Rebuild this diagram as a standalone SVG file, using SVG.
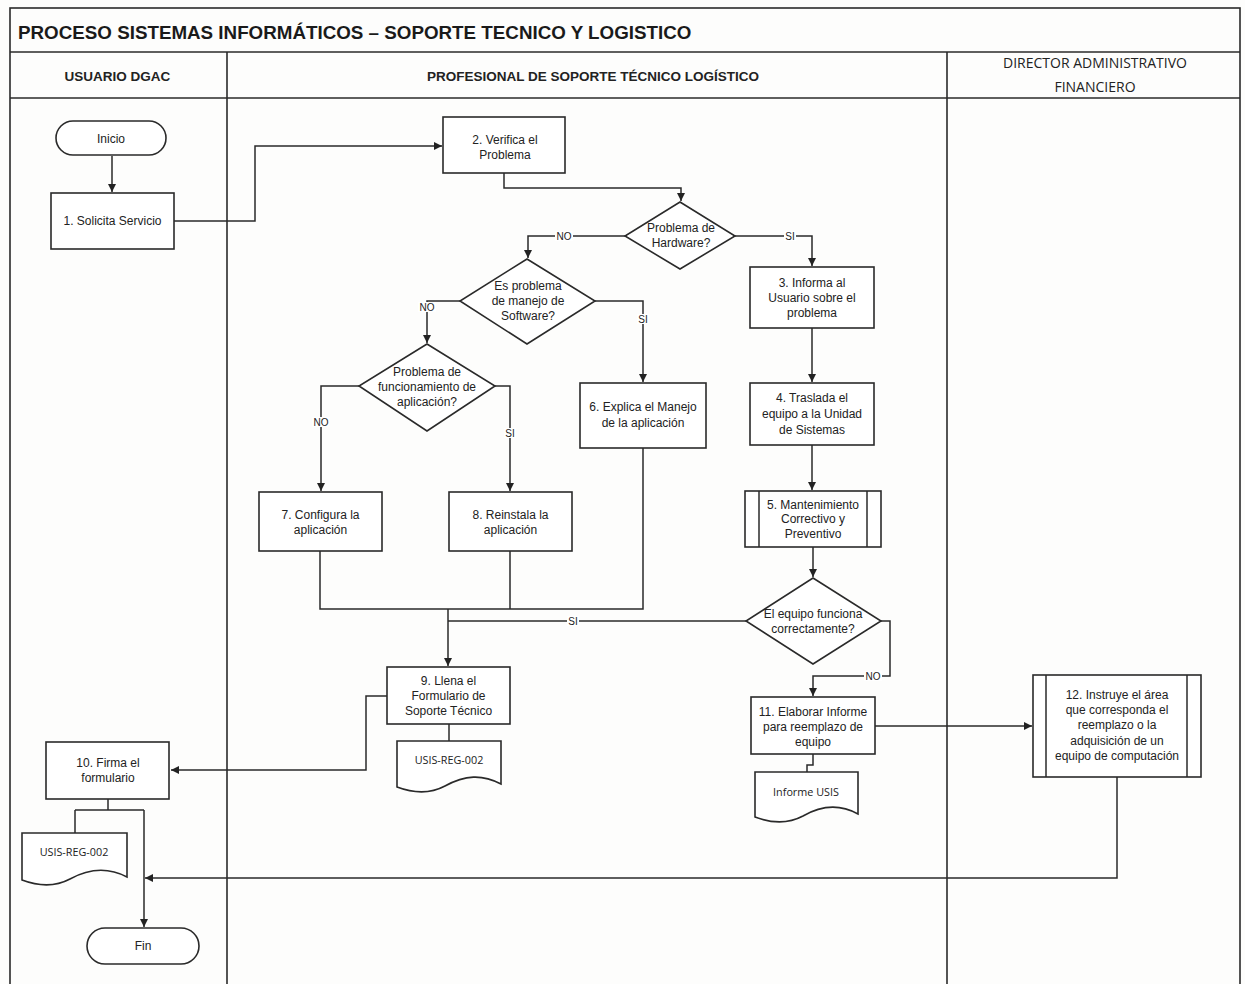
<svg xmlns="http://www.w3.org/2000/svg" width="1245" height="984" viewBox="0 0 1245 984">
<defs>
<marker id="arr" viewBox="0 0 10 10" refX="10" refY="5" markerWidth="8" markerHeight="8" markerUnits="userSpaceOnUse" orient="auto">
<path d="M0,0 L10,5 L0,10 z" fill="#222"/>
</marker>
<style>
.frame{fill:none;stroke:#2a2a2a;stroke-width:1.6}
.box{fill:#fff;stroke:#2a2a2a;stroke-width:1.6}
.ln{fill:none;stroke:#2a2a2a;stroke-width:1.5}
.t{font-family:"Liberation Sans",Arial,sans-serif;font-size:12px;fill:#222;text-anchor:middle}
.ts{font-family:"Liberation Sans",Arial,sans-serif;font-size:12px;fill:#222;text-anchor:middle}
.doc{font-family:"Open Sans","Liberation Sans",sans-serif;font-size:10.8px;fill:#222;text-anchor:middle}
.lbl{font-family:"Liberation Sans",Arial,sans-serif;font-size:10px;fill:#222;text-anchor:middle}
.hdr{font-family:"Liberation Sans",Arial,sans-serif;font-size:13.5px;font-weight:bold;fill:#222;text-anchor:middle}
.hdr2{font-family:"Open Sans","Liberation Sans",sans-serif;font-size:14px;fill:#222;text-anchor:middle}
.title{font-family:"Liberation Sans",Arial,sans-serif;font-size:18.8px;font-weight:bold;fill:#1a1a1a}
.bg{fill:#fff}
</style>
</defs>
<rect x="0" y="0" width="1245" height="984" fill="#fdfdfc"/>

<g id="lanes">
<rect class="frame" x="10" y="8" width="1230" height="990"/>
<line class="frame" x1="10" y1="52" x2="1240" y2="52"/>
<line class="frame" x1="10" y1="98" x2="1240" y2="98"/>
<line class="frame" x1="227" y1="52" x2="227" y2="984"/>
<line class="frame" x1="947" y1="52" x2="947" y2="984"/>
<text class="title" x="18" y="38.5">PROCESO SISTEMAS INFORMÁTICOS – SOPORTE TECNICO Y LOGISTICO</text>
<text class="hdr" x="117.5" y="81">USUARIO DGAC</text>
<text class="hdr" x="593" y="80.5">PROFESIONAL DE SOPORTE TÉCNICO LOGÍSTICO</text>
<text class="hdr2" x="1095" y="68">DIRECTOR ADMINISTRATIVO</text>
<text class="hdr2" x="1095" y="92">FINANCIERO</text>
</g>

<g id="connectors">
<path class="ln" d="M112,156 V192" marker-end="url(#arr)"/>
<path class="ln" d="M174,221 H255 V146 H442" marker-end="url(#arr)"/>
<path class="ln" d="M504,173 V188 H681 V201" marker-end="url(#arr)"/>
<path class="ln" d="M625,236 H528 V258" marker-end="url(#arr)"/>
<path class="ln" d="M735,236 H812 V266" marker-end="url(#arr)"/>
<path class="ln" d="M460,301 H427 V343" marker-end="url(#arr)"/>
<path class="ln" d="M595,301 H643 V382" marker-end="url(#arr)"/>
<path class="ln" d="M359,386 H321 V491" marker-end="url(#arr)"/>
<path class="ln" d="M495,386 H510 V491" marker-end="url(#arr)"/>
<path class="ln" d="M812,328 V382" marker-end="url(#arr)"/>
<path class="ln" d="M812,445 V490" marker-end="url(#arr)"/>
<path class="ln" d="M813,547 V577" marker-end="url(#arr)"/>
<path class="ln" d="M320,551 V609 H643 V448 M510,551 V609"/>
<path class="ln" d="M448,609 V666" marker-end="url(#arr)"/>
<path class="ln" d="M746,621 H448"/>
<path class="ln" d="M881,621 H890 V676 H813 V696" marker-end="url(#arr)"/>
<path class="ln" d="M449,724 V741"/>
<path class="ln" d="M387,696 H366 V770 H171" marker-end="url(#arr)"/>
<path class="ln" d="M813,754 V765 H807 V772"/>
<path class="ln" d="M875,726 H1032" marker-end="url(#arr)"/>
<path class="ln" d="M1117,777 V878 H145" marker-end="url(#arr)"/>
<path class="ln" d="M108,799 V810 M75,810 H144 M75,810 V833"/>
<path class="ln" d="M144,810 V927" marker-end="url(#arr)"/>
<rect class="bg" x="555" y="231" width="18" height="10"/>
<text class="lbl" x="564" y="239.5">NO</text>
<rect class="bg" x="784" y="231" width="12" height="10"/>
<text class="lbl" x="790" y="239.5">SI</text>
<rect class="bg" x="418" y="302" width="18" height="10"/>
<text class="lbl" x="427" y="310.5">NO</text>
<rect class="bg" x="637" y="314" width="12" height="10"/>
<text class="lbl" x="643" y="322.5">SI</text>
<rect class="bg" x="312" y="417" width="18" height="10"/>
<text class="lbl" x="321" y="425.5">NO</text>
<rect class="bg" x="504" y="428" width="12" height="10"/>
<text class="lbl" x="510" y="436.5">SI</text>
<rect class="bg" x="567" y="616" width="12" height="10"/>
<text class="lbl" x="573" y="624.5">SI</text>
<rect class="bg" x="864" y="671" width="18" height="10"/>
<text class="lbl" x="873" y="679.5">NO</text>
</g>

<g id="inicio">
<rect class="box" x="56" y="121" width="110" height="34" rx="17"/>
<text class="t" x="111" y="143">Inicio</text>
</g>
<g id="n1">
<rect class="box" x="51" y="193" width="123" height="56"/>
<text class="t" x="112.5" y="225">1. Solicita Servicio</text>
</g>
<g id="n2">
<rect class="box" x="443" y="117" width="122" height="56"/>
<text class="t" x="505" y="144">2. Verifica el</text>
<text class="t" x="505" y="159">Problema</text>
</g>
<g id="d1">
<polygon class="box" points="680,202 735,236 680,269 625,236"/>
<text class="ts" x="681" y="232">Problema de</text>
<text class="ts" x="681" y="247">Hardware?</text>
</g>
<g id="d2">
<polygon class="box" points="527,259 595,301 527,344 460,301"/>
<text class="ts" x="528" y="290">Es problema</text>
<text class="ts" x="528" y="305">de manejo de</text>
<text class="ts" x="528" y="320">Software?</text>
</g>
<g id="d3">
<polygon class="box" points="427,344 495,386 427,431 359,386"/>
<text class="ts" x="427" y="376">Problema de</text>
<text class="ts" x="427" y="391">funcionamiento de</text>
<text class="ts" x="427" y="406">aplicación?</text>
</g>
<g id="n3">
<rect class="box" x="750" y="267" width="124" height="61"/>
<text class="t" x="812" y="287">3. Informa al</text>
<text class="t" x="812" y="302">Usuario sobre el</text>
<text class="t" x="812" y="317">problema</text>
</g>
<g id="n4">
<rect class="box" x="750" y="383" width="124" height="62"/>
<text class="t" x="812" y="402">4. Traslada el</text>
<text class="t" x="812" y="418">equipo a la Unidad</text>
<text class="t" x="812" y="434">de Sistemas</text>
</g>
<g id="n5">
<rect class="box" x="745" y="491" width="136" height="56"/>
<line class="ln" x1="759" y1="491" x2="759" y2="547"/>
<line class="ln" x1="867" y1="491" x2="867" y2="547"/>
<text class="t" x="813" y="509">5. Mantenimiento</text>
<text class="t" x="813" y="523">Correctivo y</text>
<text class="t" x="813" y="538">Preventivo</text>
</g>
<g id="n6">
<rect class="box" x="580" y="383" width="126" height="65"/>
<text class="t" x="643" y="411">6. Explica el Manejo</text>
<text class="t" x="643" y="427">de la aplicación</text>
</g>
<g id="n7">
<rect class="box" x="259" y="492" width="123" height="59"/>
<text class="t" x="320.5" y="519">7. Configura la</text>
<text class="t" x="320.5" y="534">aplicación</text>
</g>
<g id="n8">
<rect class="box" x="449" y="492" width="123" height="59"/>
<text class="t" x="510.5" y="519">8. Reinstala la</text>
<text class="t" x="510.5" y="534">aplicación</text>
</g>
<g id="d4">
<polygon class="box" points="813,578 881,621 813,664 746,621"/>
<text class="ts" x="813" y="618">El equipo funciona</text>
<text class="ts" x="813" y="633">correctamente?</text>
</g>
<g id="n9">
<rect class="box" x="387" y="667" width="123" height="57"/>
<text class="t" x="448.5" y="685">9. Llena el</text>
<text class="t" x="448.5" y="700">Formulario de</text>
<text class="t" x="448.5" y="715">Soporte Técnico</text>
</g>
<g id="doc9">
<path class="box" d="M397,741 H501 V784 C482,774 465,775 445,786 C430,794 413,793 397,787 Z"/>
<text class="doc" x="449" y="764">USIS-REG-002</text>
</g>
<g id="n10">
<rect class="box" x="46" y="742" width="123" height="57"/>
<text class="t" x="108" y="767">10. Firma el</text>
<text class="t" x="108" y="782">formulario</text>
</g>
<g id="doc10">
<path class="box" d="M22,833 H127 V877 C108,867 90,868 70,879 C55,887 38,886 22,880 Z"/>
<text class="doc" x="74" y="856">USIS-REG-002</text>
</g>
<g id="fin">
<rect class="box" x="87" y="928" width="112" height="36" rx="18"/>
<text class="t" x="143" y="950">Fin</text>
</g>
<g id="n11">
<rect class="box" x="751" y="697" width="124" height="57"/>
<text class="t" x="813" y="716">11. Elaborar Informe</text>
<text class="t" x="813" y="731">para reemplazo de</text>
<text class="t" x="813" y="746">equipo</text>
</g>
<g id="doc11">
<path class="box" d="M755,772 H858 V814 C840,804 822,805 803,816 C788,824 771,823 755,817 Z"/>
<text class="doc" x="806" y="796">Informe USIS</text>
</g>
<g id="n12">
<rect class="box" x="1033" y="675" width="168" height="102"/>
<line class="ln" x1="1046" y1="675" x2="1046" y2="777"/>
<line class="ln" x1="1187" y1="675" x2="1187" y2="777"/>
<text class="t" x="1117" y="699">12. Instruye el área</text>
<text class="t" x="1117" y="714">que corresponda el</text>
<text class="t" x="1117" y="729">reemplazo o la</text>
<text class="t" x="1117" y="745">adquisición de un</text>
<text class="t" x="1117" y="760">equipo de computación</text>
</g>
</svg>
